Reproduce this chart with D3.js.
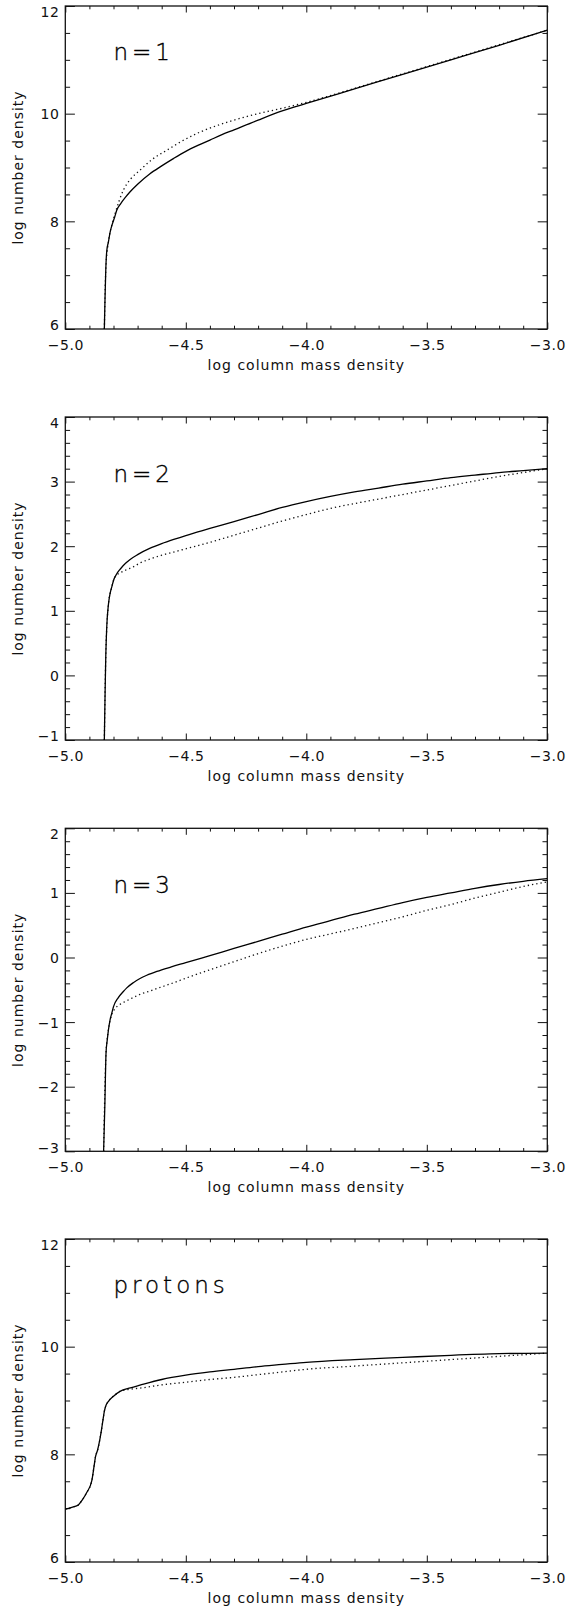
<!DOCTYPE html>
<html>
<head>
<meta charset="utf-8">
<script src="https://cdn.jsdelivr.net/npm/d3@7"></script>
<style>
  body { margin: 0; background: #fff; }
  text { font-family: "DejaVu Sans", "Liberation Sans", sans-serif; fill: #111; }
</style>
</head>
<body>
<svg id="chart" width="578" height="1606"></svg>
<script>
// log column mass density (x) vs log number density (y), four populations.
// Solid and dotted curves are two model runs.

// ---- n = 1 ----
const n1SolidX = [-4.838, -4.835, -4.832, -4.828, -4.821, -4.814, -4.807, -4.795, -4.787, -4.770, -4.750, -4.731, -4.700, -4.650, -4.600, -4.550, -4.500, -4.450, -4.400, -4.350, -4.300, -4.200, -4.100, -4.000, -3.800, -3.600, -3.400, -3.200, -3.000];
const n1SolidY = [6.00, 6.60, 7.10, 7.45, 7.62, 7.80, 7.92, 8.08, 8.20, 8.33, 8.45, 8.55, 8.69, 8.88, 9.03, 9.17, 9.30, 9.41, 9.51, 9.61, 9.70, 9.88, 10.05, 10.19, 10.46, 10.73, 11.00, 11.27, 11.55];
const n1DotX = [-4.838, -4.832, -4.821, -4.807, -4.793, -4.775, -4.759, -4.730, -4.690, -4.640, -4.579, -4.520, -4.440, -4.370, -4.300, -4.200, -4.100, -4.000, -3.800, -3.600, -3.400, -3.200, -3.000];
const n1DotY = [6.00, 7.10, 7.62, 7.93, 8.15, 8.40, 8.58, 8.78, 8.95, 9.15, 9.32, 9.48, 9.66, 9.78, 9.88, 10.00, 10.10, 10.21, 10.47, 10.74, 11.01, 11.28, 11.55];

// ---- n = 2 ----
const n2SolidX = [-4.838, -4.835, -4.832, -4.828, -4.821, -4.814, -4.807, -4.800, -4.787, -4.770, -4.750, -4.731, -4.700, -4.650, -4.600, -4.550, -4.500, -4.450, -4.400, -4.300, -4.200, -4.100, -4.000, -3.900, -3.800, -3.700, -3.600, -3.500, -3.400, -3.300, -3.200, -3.100, -3.000];
const n2SolidY = [-1.00, -0.30, 0.30, 0.75, 1.10, 1.27, 1.37, 1.47, 1.57, 1.655, 1.735, 1.795, 1.87, 1.965, 2.04, 2.105, 2.165, 2.22, 2.275, 2.38, 2.49, 2.60, 2.69, 2.77, 2.84, 2.90, 2.96, 3.01, 3.06, 3.10, 3.14, 3.17, 3.20];
const n2DotX = [-4.838, -4.832, -4.821, -4.807, -4.793, -4.770, -4.750, -4.718, -4.690, -4.650, -4.600, -4.550, -4.500, -4.400, -4.300, -4.200, -4.100, -4.000, -3.900, -3.800, -3.700, -3.600, -3.500, -3.400, -3.300, -3.200, -3.100, -3.000];
const n2DotY = [-1.00, 0.30, 1.10, 1.37, 1.53, 1.59, 1.63, 1.68, 1.74, 1.80, 1.86, 1.91, 1.96, 2.06, 2.17, 2.28, 2.39, 2.49, 2.585, 2.66, 2.73, 2.80, 2.87, 2.94, 3.01, 3.08, 3.14, 3.20];

// ---- n = 3 ----
const n3SolidX = [-4.841, -4.836, -4.831, -4.826, -4.821, -4.814, -4.807, -4.800, -4.780, -4.760, -4.745, -4.718, -4.690, -4.662, -4.620, -4.560, -4.500, -4.400, -4.300, -4.200, -4.100, -4.000, -3.900, -3.800, -3.700, -3.600, -3.500, -3.400, -3.300, -3.200, -3.100, -3.000];
const n3SolidY = [-3.00, -2.30, -1.48, -1.28, -1.12, -0.96, -0.86, -0.76, -0.62, -0.53, -0.47, -0.39, -0.325, -0.275, -0.215, -0.145, -0.08, 0.03, 0.14, 0.25, 0.36, 0.47, 0.57, 0.67, 0.76, 0.85, 0.93, 1.00, 1.07, 1.13, 1.18, 1.22];
const n3DotX = [-4.841, -4.831, -4.821, -4.807, -4.793, -4.760, -4.718, -4.690, -4.650, -4.620, -4.550, -4.500, -4.400, -4.300, -4.200, -4.100, -4.000, -3.900, -3.800, -3.700, -3.600, -3.500, -3.400, -3.300, -3.200, -3.100, -3.000];
const n3DotY = [-3.00, -1.48, -1.12, -0.88, -0.79, -0.70, -0.62, -0.57, -0.52, -0.48, -0.39, -0.32, -0.19, -0.065, 0.06, 0.175, 0.28, 0.365, 0.45, 0.54, 0.63, 0.73, 0.82, 0.92, 1.01, 1.10, 1.17];

// ---- protons ----
const pSolidX = [-5.000, -4.970, -4.946, -4.930, -4.911, -4.890, -4.880, -4.875, -4.866, -4.856, -4.850, -4.845, -4.838, -4.831, -4.820, -4.800, -4.773, -4.730, -4.690, -4.600, -4.500, -4.400, -4.300, -4.200, -4.100, -4.000, -3.800, -3.600, -3.400, -3.200, -3.000];
const pSolidY = [6.98, 7.02, 7.06, 7.15, 7.29, 7.51, 7.80, 7.95, 8.08, 8.29, 8.45, 8.60, 8.80, 8.91, 8.99, 9.08, 9.17, 9.235, 9.285, 9.39, 9.47, 9.53, 9.58, 9.63, 9.67, 9.71, 9.76, 9.80, 9.84, 9.87, 9.88];
const pDotX = [-5.000, -4.970, -4.946, -4.930, -4.911, -4.890, -4.880, -4.875, -4.866, -4.856, -4.850, -4.845, -4.838, -4.831, -4.820, -4.800, -4.773, -4.730, -4.690, -4.600, -4.500, -4.400, -4.300, -4.200, -4.100, -4.000, -3.800, -3.600, -3.400, -3.200, -3.000];
const pDotY = [6.98, 7.02, 7.06, 7.15, 7.29, 7.51, 7.80, 7.95, 8.08, 8.29, 8.45, 8.60, 8.80, 8.91, 8.99, 9.08, 9.17, 9.21, 9.23, 9.29, 9.34, 9.39, 9.43, 9.48, 9.53, 9.58, 9.64, 9.70, 9.76, 9.82, 9.88];

// Axis ticks
const xMajorTicks = [-5.0, -4.5, -4.0, -3.5, -3.0];
const xDomain = [-5, -3];
const panelLabels = ["n=1", "n=2", "n=3", "protons"];
const yDomains = [[6, 12], [-1, 4], [-3, 2], [6, 12]];
const yMajorTicks = [[6, 8, 10, 12], [-1, 0, 1, 2, 3, 4], [-3, -2, -1, 0, 1, 2], [6, 8, 10, 12]];
const yMinorSteps = [0.5, 0.2, 0.2, 0.5];
const labelYs = [11, 3, 1, 11];
const labelX = -4.8;
const xTitle = "log column mass density";
const yTitle = "log number density";

const zip = (xs, ys) => xs.map((x, i) => [x, ys[i]]);
const panels = [
  { solid: zip(n1SolidX, n1SolidY), dotted: zip(n1DotX, n1DotY) },
  { solid: zip(n2SolidX, n2SolidY), dotted: zip(n2DotX, n2DotY) },
  { solid: zip(n3SolidX, n3SolidY), dotted: zip(n3DotX, n3DotY) },
  { solid: zip(pSolidX, pSolidY), dotted: zip(pDotX, pDotY) }
];

const svg = d3.select("#chart");
const left = 65.3, right = 547.3, plotH = 323;
const tops = [6, 417, 828.3, 1239];
const fmtTick = v => d3.format(".1f")(v).replace("-", "\u2212");
const fmtY = v => String(v).replace("-", "\u2212");

const x = d3.scaleLinear().domain(xDomain).range([left, right]);
const xMinor = d3.range(-5, -2.95, 0.1).map(v => +v.toFixed(2)).filter(v => !xMajorTicks.some(t => Math.abs(t - v) < 1e-6));

panels.forEach((p, i) => {
  const top = tops[i], bottom = top + plotH;
  const y = d3.scaleLinear().domain(yDomains[i]).range([bottom, top]);
  const g = svg.append("g");
  const [y0, y1] = yDomains[i];
  const step = yMinorSteps[i];
  const yMinor = d3.range(0, Math.round((y1 - y0) / step) + 1).map(k => +(y0 + k * step).toFixed(3))
    .filter(v => !yMajorTicks[i].some(t => Math.abs(t - v) < 1e-6));

  const clipId = "clip" + i;
  g.append("clipPath").attr("id", clipId).append("rect")
    .attr("x", left).attr("y", top).attr("width", right - left).attr("height", plotH);

  const styleAxis = sel => {
    sel.select(".domain").remove();
    sel.selectAll(".tick line").attr("stroke", "#111").attr("stroke-width", 1);
    sel.selectAll("text").attr("fill", "#111").style("font-size", "14px").style("letter-spacing", "0.5px");
  };

  // bottom: major with labels, minor without
  g.append("g").attr("transform", `translate(0,${bottom})`)
    .call(d3.axisBottom(x).tickValues(xMajorTicks).tickSize(-6.5).tickPadding(11).tickFormat(fmtTick))
    .call(styleAxis);
  g.append("g").attr("transform", `translate(0,${bottom})`)
    .call(d3.axisBottom(x).tickValues(xMinor).tickSize(-3.3).tickFormat(""))
    .call(styleAxis);
  // top
  g.append("g").attr("transform", `translate(0,${top})`)
    .call(d3.axisTop(x).tickValues(xMajorTicks).tickSize(-6.5).tickFormat(""))
    .call(styleAxis);
  g.append("g").attr("transform", `translate(0,${top})`)
    .call(d3.axisTop(x).tickValues(xMinor).tickSize(-3.3).tickFormat(""))
    .call(styleAxis);
  // left, end labels kept inside the frame height
  g.append("g").attr("transform", `translate(${left},0)`)
    .call(d3.axisLeft(y).tickValues(yMajorTicks[i]).tickSize(-9.6).tickPadding(6).tickFormat(fmtY))
    .call(styleAxis)
    .call(sel => sel.selectAll(".tick text").attr("dy", d => d === y0 ? "0.05em" : d === y1 ? "0.74em" : "0.36em"));
  g.append("g").attr("transform", `translate(${left},0)`)
    .call(d3.axisLeft(y).tickValues(yMinor).tickSize(-4.8).tickFormat(""))
    .call(styleAxis);
  // right
  g.append("g").attr("transform", `translate(${right},0)`)
    .call(d3.axisRight(y).tickValues(yMajorTicks[i]).tickSize(-9.6).tickFormat(""))
    .call(styleAxis);
  g.append("g").attr("transform", `translate(${right},0)`)
    .call(d3.axisRight(y).tickValues(yMinor).tickSize(-4.8).tickFormat(""))
    .call(styleAxis);

  // frame
  g.append("rect").attr("x", left).attr("y", top).attr("width", right - left).attr("height", plotH)
    .attr("fill", "none").attr("stroke", "#111").attr("stroke-width", 1.3);

  const line = d3.line().x(d => x(d[0])).y(d => y(d[1])).curve(d3.curveMonotoneX);
  const curves = g.append("g").attr("clip-path", `url(#${clipId})`);
  curves.append("path").datum(p.dotted).attr("d", line)
    .attr("fill", "none").attr("stroke", "#111").attr("stroke-width", 1.3)
    .attr("stroke-dasharray", "1.3,3");
  curves.append("path").datum(p.solid).attr("d", line)
    .attr("fill", "none").attr("stroke", "#000").attr("stroke-width", 1.3);

  // panel label
  g.append("text").attr("x", x(labelX)).attr("y", y(labelYs[i]))
    .style("fill", "#000").style("stroke", "#000").style("stroke-width", "0.35")
    .style("font-size", "23px").style("letter-spacing", "4px").style("font-weight", "200")
    .text(panelLabels[i]);

  // axis titles
  g.append("text").attr("x", (left + right) / 2).attr("y", bottom + 41)
    .attr("text-anchor", "middle").style("font-size", "14px").style("letter-spacing", "1px")
    .text(xTitle);
  g.append("text").attr("transform", `translate(23,${(top + bottom) / 2}) rotate(-90)`)
    .attr("text-anchor", "middle").style("font-size", "14px").style("letter-spacing", "1px")
    .text(yTitle);
});
</script>
</body>
</html>
